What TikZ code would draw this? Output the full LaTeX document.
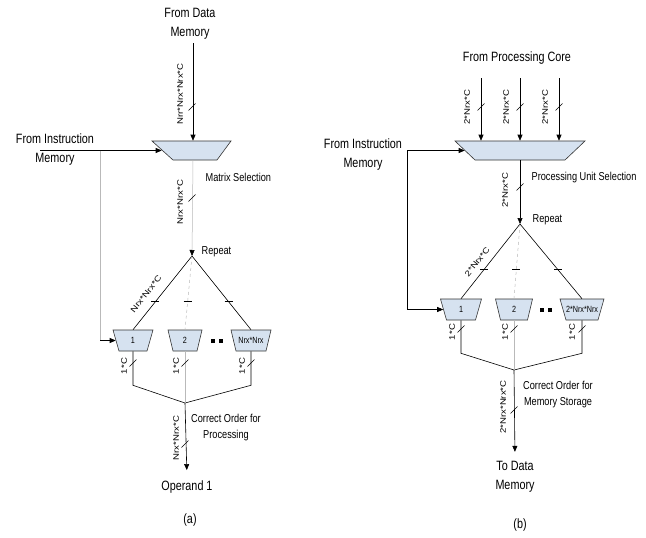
\documentclass[tikz,border=0pt]{standalone}
\usepackage{fontspec}
\setmainfont{Liberation Sans}[FakeStretch=0.8]
\newfontfamily\busfont{Liberation Sans}[FakeStretch=1.2]
\usetikzlibrary{arrows.meta,calc}
\definecolor{muxblue}{RGB}{214,226,240}
\newcommand{\selunit}[6]{%
  \filldraw[muxfill] (#2-#4,#3) -- (#2+#4,#3) -- (#2+#5,#3+21) -- (#2-#5,#3+21) -- cycle;
  \node[muxtext, minimum width=#4pt+#5pt] (#1) at (#2,#3+10.5) {#6};}
\tikzset{
  slashmark/.pic={\draw[line width=0.5pt] (-3.5,3.5) -- (3.5,-3.5);},
  barmark/.pic={\draw[line width=0.5pt] (-4,0) -- (4,0);}
}

\begin{document}
\begin{tikzpicture}[x=1pt, y=-1pt, line width=0.6pt, >={Triangle[length=6pt,width=5pt]},
    bigtext/.style={font=\fontsize{13.5}{19}\selectfont, align=center},
    midtext/.style={font=\fontsize{11.5}{16}\selectfont, align=center},
    buslabel/.style={font=\busfont\fontsize{8}{9}\selectfont, inner sep=1pt},
    muxtext/.style={font=\fontsize{9}{10}\selectfont, minimum height=21pt, inner sep=0pt},
    muxfill/.style={fill=muxblue, draw=black!80},
    faint/.style={gray!55, line width=0.5pt}]
    \useasboundingbox (0,0) rectangle (646,538);

    \node[bigtext] (dmem) at (190,24) {From Data\\Memory};
    \node[bigtext] (imemA) at (55,150) {From Instruction\\Memory};
    \filldraw[muxfill] (152,141) -- (231,141) -- (217,160) -- (173,160) -- cycle;
    \node[minimum width=62pt, minimum height=19pt, inner sep=0pt] (selA) at (193,150.5) {};
    \node[midtext, anchor=west] (mselA) at (202,177) {Matrix Selection};
    \node[midtext, anchor=west] (rptA) at (198,252) {Repeat};
    \coordinate (instA) at (40,150.5);
    \coordinate (cornA) at (100,150.5);
    \coordinate (repA) at (192,256);
    \coordinate (joinA) at (185,403);

    \selunit{mA1}{133}{330}{20}{14}{1}
    \selunit{mA2}{185}{330}{17}{12}{2}
    \selunit{mA3}{251}{330}{20}{15}{Nrx*Nrx}
    \node (dotsA) at (217,341) {\rule{4pt}{4pt}\hspace{4pt}\rule{4pt}{4pt}};

    \draw[->] (dmem.south -| selA) -- (selA.north);
    \draw[->] (instA) -- (selA.west);
    \draw[faint] (cornA) -- (cornA |- mA1);
    \draw[->] (cornA |- mA1) -- (mA1.west);
    \draw[faint, -{Triangle[length=6pt,width=5pt,color=black]}] (selA.south) -- (repA);
    \draw (repA) -- (mA1.north) node[buslabel, sloped, above=8pt, pos=.62] (wA3) {Nrx*Nrx*C};
    \draw[faint, dashed] (repA) -- (mA2.north);
    \draw (repA) -- (mA3.north);
    \draw (mA1.south) -- ++(0,34) -- (joinA);
    \draw (mA3.south) -- ++(0,34) -- (joinA);
    \draw[faint] (mA2.south) -- (joinA);
    \node[bigtext] (opA) at (187,487) {Operand 1};
    \draw[->, shorten >=7pt] (joinA) -- (opA.north);
    \node[midtext] (corrA) at (226,428) {Correct Order for\\Processing};
    \node[bigtext] (capA) at (190,520) {(a)};

    \node[buslabel, rotate=90] (wA1) at (180,94) {Nrr*Nrx*Nrx*C};
    \node[buslabel, rotate=90] (wA2) at (180,202) {Nrx*Nrx*C};
    \node[buslabel, rotate=90] (wA4) at (124,366) {1*C};
    \node[buslabel, rotate=90] (wA5) at (176,366) {1*C};
    \node[buslabel, rotate=90] (wA6) at (242,366) {1*C};
    \node[buslabel, rotate=90] (wA7) at (176,438) {Nrx*Nrx*C};
    \pic at (192,107) {slashmark};
    \pic at (192,198) {slashmark};
    \pic at ($(repA)!.62!(mA1.north)$) {barmark};
    \pic at ($(repA)!.62!(mA2.north)$) {barmark};
    \pic at ($(repA)!.62!(mA3.north)$) {barmark};
    \pic at (133,363) {slashmark};
    \pic at (185,363) {slashmark};
    \pic at (251,363) {slashmark};
    \pic at (185,444) {slashmark};

    \node[bigtext] (pcore) at (517,58) {From Processing Core};
    \node[bigtext] (imemB) at (363,155) {From Instruction\\Memory};
    \filldraw[muxfill] (455,141) -- (585,141) -- (565,160) -- (475,160) -- cycle;
    \node[minimum width=110pt, minimum height=19pt, inner sep=0pt] (selB) at (520,150.5) {};
    \node[midtext, anchor=west] (pselB) at (528,178) {Processing Unit Selection};
    \node[midtext, anchor=west] (rptB) at (529,220) {Repeat};
    \coordinate (inB1) at (481,78);
    \coordinate (inB2) at (520,78);
    \coordinate (inB3) at (559,78);
    \coordinate (instB) at (407,150.5);
    \coordinate (repB) at (520,224);
    \coordinate (joinB) at (514,370);

    \selunit{mB1}{461}{299}{20.5}{14.5}{1}
    \selunit{mB2}{514}{299}{18.5}{13.5}{2}
    \selunit{mB3}{582}{299}{22}{16}{2*Nrx*Nrx}
    \node (dotsB) at (546,310) {\rule{4pt}{4pt}\hspace{4pt}\rule{4pt}{4pt}};

    \draw[->] (inB1) -- (inB1 |- selB.north);
    \draw[->] (inB2) -- (inB2 |- selB.north);
    \draw[->] (inB3) -- (inB3 |- selB.north);
    \draw[->] (instB) -- (selB.west);
    \draw[->] (instB) |- (mB1.west);
    \draw[->] (selB.south) -- (repB);
    \draw (repB) -- (mB1.north) node[buslabel, sloped, above=6pt, pos=.59] (wB5) {2*Nrx*C};
    \draw[faint, dashed] (repB) -- (mB2.north);
    \draw (repB) -- (mB3.north);
    \draw (mB1.south) -- ++(0,33) -- (joinB);
    \draw (mB3.south) -- ++(0,33) -- (joinB);
    \draw[faint] (mB2.south) -- (joinB);
    \node[bigtext] (todm) at (515,477) {To Data\\Memory};
    \draw[->, shorten >=6pt] (joinB) -- (todm.north);
    \node[midtext] (corrB) at (558,395) {Correct Order for\\Memory Storage};
    \node[bigtext] (capB) at (520,525) {(b)};

    \node[buslabel, rotate=90] (wB1) at (467,107) {2*Nrx*C};
    \node[buslabel, rotate=90] (wB2) at (506,107) {2*Nrx*C};
    \node[buslabel, rotate=90] (wB3) at (545,107) {2*Nrx*C};
    \node[buslabel, rotate=90] (wB4) at (505,190) {2*Nrx*C};
    \node[buslabel, rotate=90] (wB6) at (452,332) {1*C};
    \node[buslabel, rotate=90] (wB7) at (505,332) {1*C};
    \node[buslabel, rotate=90] (wB8) at (572,332) {1*C};
    \node[buslabel, rotate=90] (wB9) at (503,407) {2*Nrx*Nrx*C};
    \pic at (481,107) {slashmark};
    \pic at (520,107) {slashmark};
    \pic at (559,107) {slashmark};
    \pic at (520,187) {slashmark};
    \pic at ($(repB)!.61!(mB1.north)$) {barmark};
    \pic at ($(repB)!.61!(mB2.north)$) {barmark};
    \pic at ($(repB)!.61!(mB3.north)$) {barmark};
    \pic at (461,329) {slashmark};
    \pic at (514,329) {slashmark};
    \pic at (582,329) {slashmark};
    \pic at (514,410) {slashmark};
\end{tikzpicture}
\end{document}
